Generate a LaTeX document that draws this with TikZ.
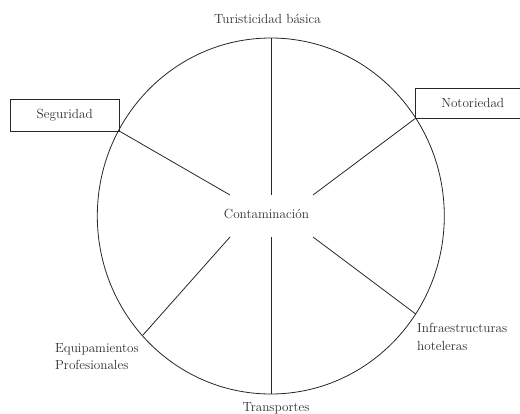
\documentclass[tikz,border=0pt]{standalone}
\begin{document}
\begin{tikzpicture}[x=1pt,y=-1pt,
  lbl/.style={font=\fontsize{13.2}{17}\selectfont, text=black!82, inner sep=0pt},
  boxnode/.style={draw=black!85, line width=0.8pt, font=\fontsize{13.2}{17}\selectfont, text=black!82, inner sep=0pt},
  spoke/.style={draw=black!85, line width=0.8pt}]
\useasboundingbox (0,0) rectangle (520,413);
\clip (0,0) rectangle (520,413);
% circle
\draw[spoke] (270.8,216) ellipse [x radius=173.5pt, y radius=178pt];
% points on the circle and inner ends
\coordinate (top) at (271,38.2);
\coordinate (bot) at (271,393.8);
\coordinate (eqo) at (143,335);
\coordinate (info) at (415.7,314);
\coordinate (iul) at (230,195);
\coordinate (iut) at (271,195);
\coordinate (iur) at (313,195);
\coordinate (ill) at (230,237);
\coordinate (ilb) at (271,237);
\coordinate (ilr) at (313,237);
% labels
\node[lbl, anchor=base] (tur) at (267.5,23.3) {Turisticidad básica};
\node[lbl, anchor=base] (cont) at (266.5,218.3) {Contaminación};
\node[lbl, anchor=base] (tra) at (276,411) {Transportes};
\node[lbl, anchor=north west, align=left, font=\fontsize{13.2}{16.6}\selectfont] (equ) at (55,343.8) {Equipamientos\\Profesionales};
\node[lbl, anchor=north west, align=left, font=\fontsize{13.2}{18}\selectfont] (inf) at (417,323.5) {Infraestructuras\\hoteleras};
% boxes
\node[boxnode, minimum width=109.5pt, minimum height=32pt] (seg) at (64.75,115) {Seguridad};
\node[boxnode, minimum width=114.5pt, minimum height=30pt] (not) at (472.75,103.2) {Notoriedad};
% spokes
\draw[spoke] (top) -- (iut);
\draw[spoke] (ilb) -- (bot);
\draw[spoke] (seg.south east) -- (iul);
\draw[spoke] (not.south west) -- (iur);
\draw[spoke] (eqo) -- (ill);
\draw[spoke] (info) -- (ilr);
\end{tikzpicture}
\end{document}
